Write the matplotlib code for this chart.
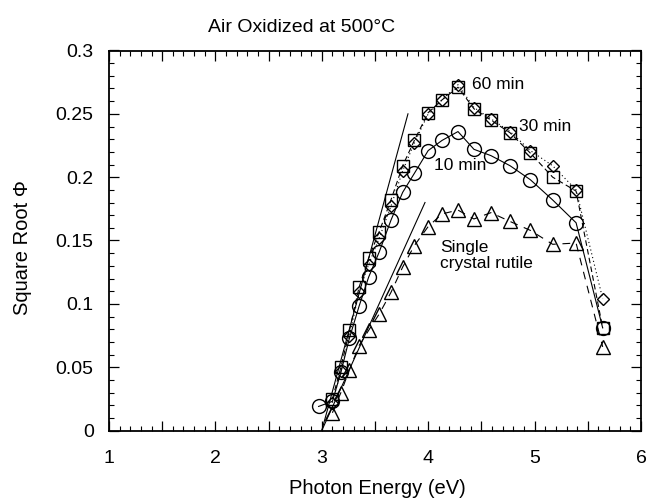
import matplotlib
matplotlib.use("Agg")
import matplotlib.pyplot as plt
from matplotlib.ticker import MultipleLocator, FuncFormatter

plt.rcParams['font.family'] = ['Liberation Sans', 'DejaVu Sans']

# Photocurrent (square root of quantum efficiency) vs photon energy
energy_10min = [2.97, 3.10, 3.18, 3.26, 3.35, 3.44, 3.54, 3.65, 3.76, 3.87,
                4.00, 4.13, 4.28, 4.43, 4.59, 4.77, 4.96, 5.17, 5.39, 5.64]
phi_10min = [0.019, 0.023, 0.046, 0.073, 0.098, 0.121, 0.141, 0.166, 0.188, 0.203,
             0.221, 0.229, 0.236, 0.222, 0.217, 0.209, 0.198, 0.182, 0.164, 0.081]

energy_film = [3.10, 3.18, 3.26, 3.35, 3.44, 3.54, 3.65, 3.76, 3.87, 4.00,
               4.13, 4.28, 4.43, 4.59, 4.77, 4.96, 5.17, 5.39, 5.64]
phi_60min = [0.025, 0.050, 0.079, 0.113, 0.136, 0.157, 0.182, 0.209, 0.229, 0.251,
             0.261, 0.271, 0.254, 0.245, 0.235, 0.219, 0.200, 0.189, 0.081]
phi_30min = [0.022, 0.047, 0.075, 0.109, 0.131, 0.152, 0.177, 0.205, 0.227, 0.250,
             0.261, 0.273, 0.255, 0.246, 0.236, 0.221, 0.209, 0.190, 0.104]

energy_rutile = [3.10, 3.18, 3.26, 3.35, 3.44, 3.54, 3.65, 3.76, 3.87, 4.00,
                 4.13, 4.28, 4.43, 4.59, 4.77, 4.96, 5.17, 5.39, 5.64]
phi_rutile = [0.014, 0.030, 0.048, 0.067, 0.079, 0.092, 0.109, 0.129, 0.146, 0.161,
              0.171, 0.174, 0.167, 0.172, 0.165, 0.158, 0.147, 0.148, 0.066]

# Linear extrapolations of the absorption edge (band gap intercepts)
fit_film_x = [3.00, 3.81]
fit_film_y = [0.0, 0.250]
fit_rutile_x = [3.00, 3.97]
fit_rutile_y = [0.0, 0.180]

fig = plt.figure(figsize=(6.55, 5.0), dpi=100)
ax = fig.add_axes([0.1664, 0.139, 0.8122, 0.760])

lw = 0.8
ax.plot(fit_film_x, fit_film_y, color='black', lw=lw)
ax.plot(fit_rutile_x, fit_rutile_y, color='black', lw=lw)

ax.plot(energy_10min, phi_10min, color='black', lw=lw, marker='o', ms=10,
        mfc='none', mec='black', mew=1.0)
ax.plot(energy_film, phi_60min, color='black', lw=lw, ls=(0, (5, 3)), marker='s', ms=8.5,
        mfc='none', mec='black', mew=1.0)
ax.plot(energy_film, phi_30min, color='black', lw=lw, ls=(0, (1, 2.5)), marker='D', ms=6.5,
        mfc='none', mec='black', mew=1.0)
ax.plot(energy_rutile, phi_rutile, color='black', lw=lw, ls=(0, (7, 6)), marker='^', ms=10,
        mfc='none', mec='black', mew=1.0)

ax.text(4.41, 0.273, '60 min', fontsize=12.5, ha='left', va='center')
ax.text(4.85, 0.240, '30 min', fontsize=12.5, ha='left', va='center')
ax.text(4.05, 0.209, '10 min', fontsize=12.5, ha='left', va='center')
ax.text(4.11, 0.138, 'Single\ncrystal rutile', fontsize=12.5, ha='left', va='center',
        linespacing=1.1)

ax.set_xlim(1, 6)
ax.set_ylim(0, 0.3)

ax.xaxis.set_major_locator(MultipleLocator(0.5))
ax.xaxis.set_minor_locator(MultipleLocator(0.1))
ax.xaxis.set_major_formatter(FuncFormatter(
    lambda v, p: f"{v:g}" if abs(v - round(v)) < 1e-6 else ""))
ax.yaxis.set_major_locator(MultipleLocator(0.05))
ax.yaxis.set_minor_locator(MultipleLocator(0.01))
ax.yaxis.set_major_formatter(FuncFormatter(lambda v, p: f"{round(v, 3):g}"))

ax.tick_params(which='both', direction='in', top=True, right=True, color='black')
ax.tick_params(which='major', length=7, width=0.9, labelsize=14)
ax.tick_params(which='minor', length=3.5, width=0.8)
ax.tick_params(axis='x', which='major', pad=14)
ax.tick_params(axis='y', which='major', pad=11)

for s in ax.spines.values():
    s.set_linewidth(1.3)
    s.set_color('black')

fig.text(0.461, 0.944, 'Air Oxidized at 500°C', fontsize=14, ha='center', va='center')
fig.text(0.576, 0.022, 'Photon Energy (eV)', fontsize=14.5, ha='center', va='center')
fig.text(0.034, 0.505, 'Square Root Φ', fontsize=14.5, ha='center', va='center',
         rotation=90)

fig.savefig('out.png', dpi=100, facecolor='white')
